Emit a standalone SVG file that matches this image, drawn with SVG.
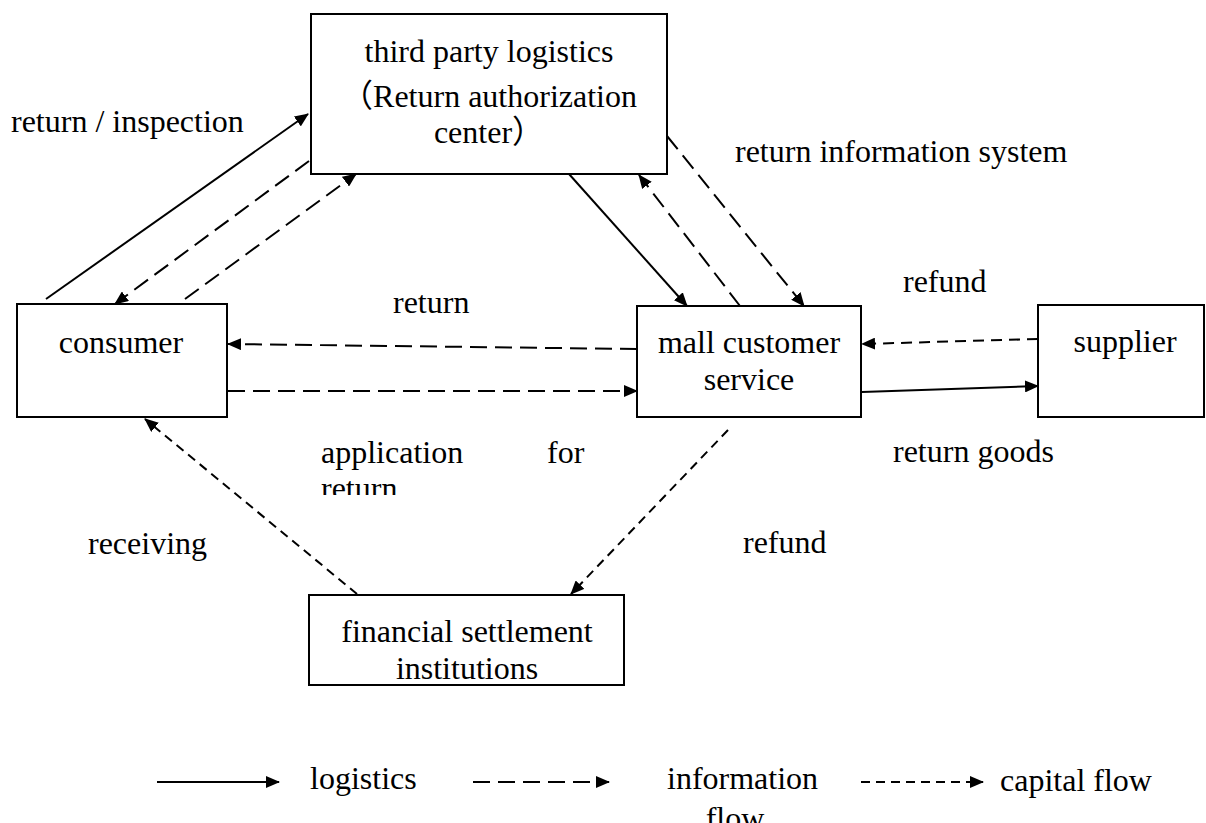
<svg xmlns="http://www.w3.org/2000/svg" width="1206" height="823" viewBox="0 0 1206 823">
<style>
.box{fill:#fff;stroke:#000;stroke-width:2}
.t{font-family:"Liberation Serif","Noto Sans CJK SC",serif;font-size:32px;fill:#000}
.m{text-anchor:middle}
.ln{fill:none;stroke:#000;stroke-width:2}
.info{stroke-dasharray:17 8}
.cap{stroke-dasharray:9 6}
.cap2{stroke-dasharray:11 7}
</style>
<defs>
<marker id="ah" viewBox="0 0 14 12" markerWidth="14" markerHeight="12" refX="13" refY="6" orient="auto" markerUnits="userSpaceOnUse">
<path d="M0,0 L14,6 L0,12 z" fill="#000"/>
</marker>
<clipPath id="clipRet"><rect x="300" y="470" width="200" height="25"/></clipPath>
</defs>

<g id="connectors">
<line class="ln" x1="46" y1="299" x2="308" y2="114" marker-end="url(#ah)"/>
<line class="ln info" x1="309" y1="161" x2="115" y2="304" marker-end="url(#ah)"/>
<line class="ln info" x1="185" y1="299" x2="356" y2="174" marker-end="url(#ah)"/>
<line class="ln" x1="569" y1="174" x2="687" y2="306" marker-end="url(#ah)"/>
<line class="ln info" x1="740" y1="306" x2="639" y2="175" marker-end="url(#ah)"/>
<line class="ln info" x1="667" y1="136" x2="804" y2="306" marker-end="url(#ah)"/>
<line class="ln info" x1="637" y1="349" x2="228" y2="344" marker-end="url(#ah)"/>
<line class="ln info" x1="228" y1="391" x2="637" y2="391" marker-end="url(#ah)"/>
<line class="ln cap2" x1="1038" y1="339" x2="862" y2="344" marker-end="url(#ah)"/>
<line class="ln" x1="862" y1="392" x2="1038" y2="386" marker-end="url(#ah)"/>
<line class="ln cap" x1="728" y1="430" x2="571" y2="594" marker-end="url(#ah)"/>
<line class="ln cap" x1="357" y1="594" x2="145" y2="419" marker-end="url(#ah)"/>
</g>

<g id="tpl">
<rect class="box" x="311" y="14" width="356" height="160"/>
<text class="t m" x="489" y="62">third party logistics</text>
<text class="t m" x="489" y="107">（Return authorization</text>
<text class="t m" x="489" y="143">center）</text>
</g>

<g id="consumer">
<rect class="box" x="17" y="304" width="210" height="113"/>
<text class="t m" x="121" y="353">consumer</text>
</g>

<g id="mall">
<rect class="box" x="637" y="306" width="224" height="111"/>
<text class="t m" x="749" y="353">mall customer</text>
<text class="t m" x="749" y="390">service</text>
</g>

<g id="supplier">
<rect class="box" x="1038" y="305" width="166" height="112"/>
<text class="t m" x="1125" y="352">supplier</text>
</g>

<g id="financial">
<rect class="box" x="309" y="595" width="315" height="90"/>
<text class="t m" x="467" y="642">financial settlement</text>
<text class="t m" x="467" y="679">institutions</text>
</g>

<g id="labels">
<text class="t" x="11" y="132">return / inspection</text>
<text class="t" x="735" y="162">return information system</text>
<text class="t" x="903" y="292">refund</text>
<text class="t" x="393" y="313">return</text>
<text class="t" x="893" y="462">return goods</text>
<text class="t" x="321" y="463">application</text>
<text class="t" x="547" y="463">for</text>
<text class="t" x="321" y="499" clip-path="url(#clipRet)">return</text>
<text class="t" x="88" y="554">receiving</text>
<text class="t" x="743" y="553">refund</text>
</g>

<g id="legend">
<line class="ln" x1="157" y1="782" x2="279" y2="782" marker-end="url(#ah)"/>
<text class="t" x="310" y="789">logistics</text>
<line class="ln info" x1="473" y1="782" x2="609" y2="782" marker-end="url(#ah)"/>
<text class="t" x="667" y="789">information</text>
<text class="t m" x="735" y="829">flow</text>
<line class="ln cap" x1="861" y1="782" x2="983" y2="782" marker-end="url(#ah)"/>
<text class="t" x="1000" y="791">capital flow</text>
</g>
</svg>
